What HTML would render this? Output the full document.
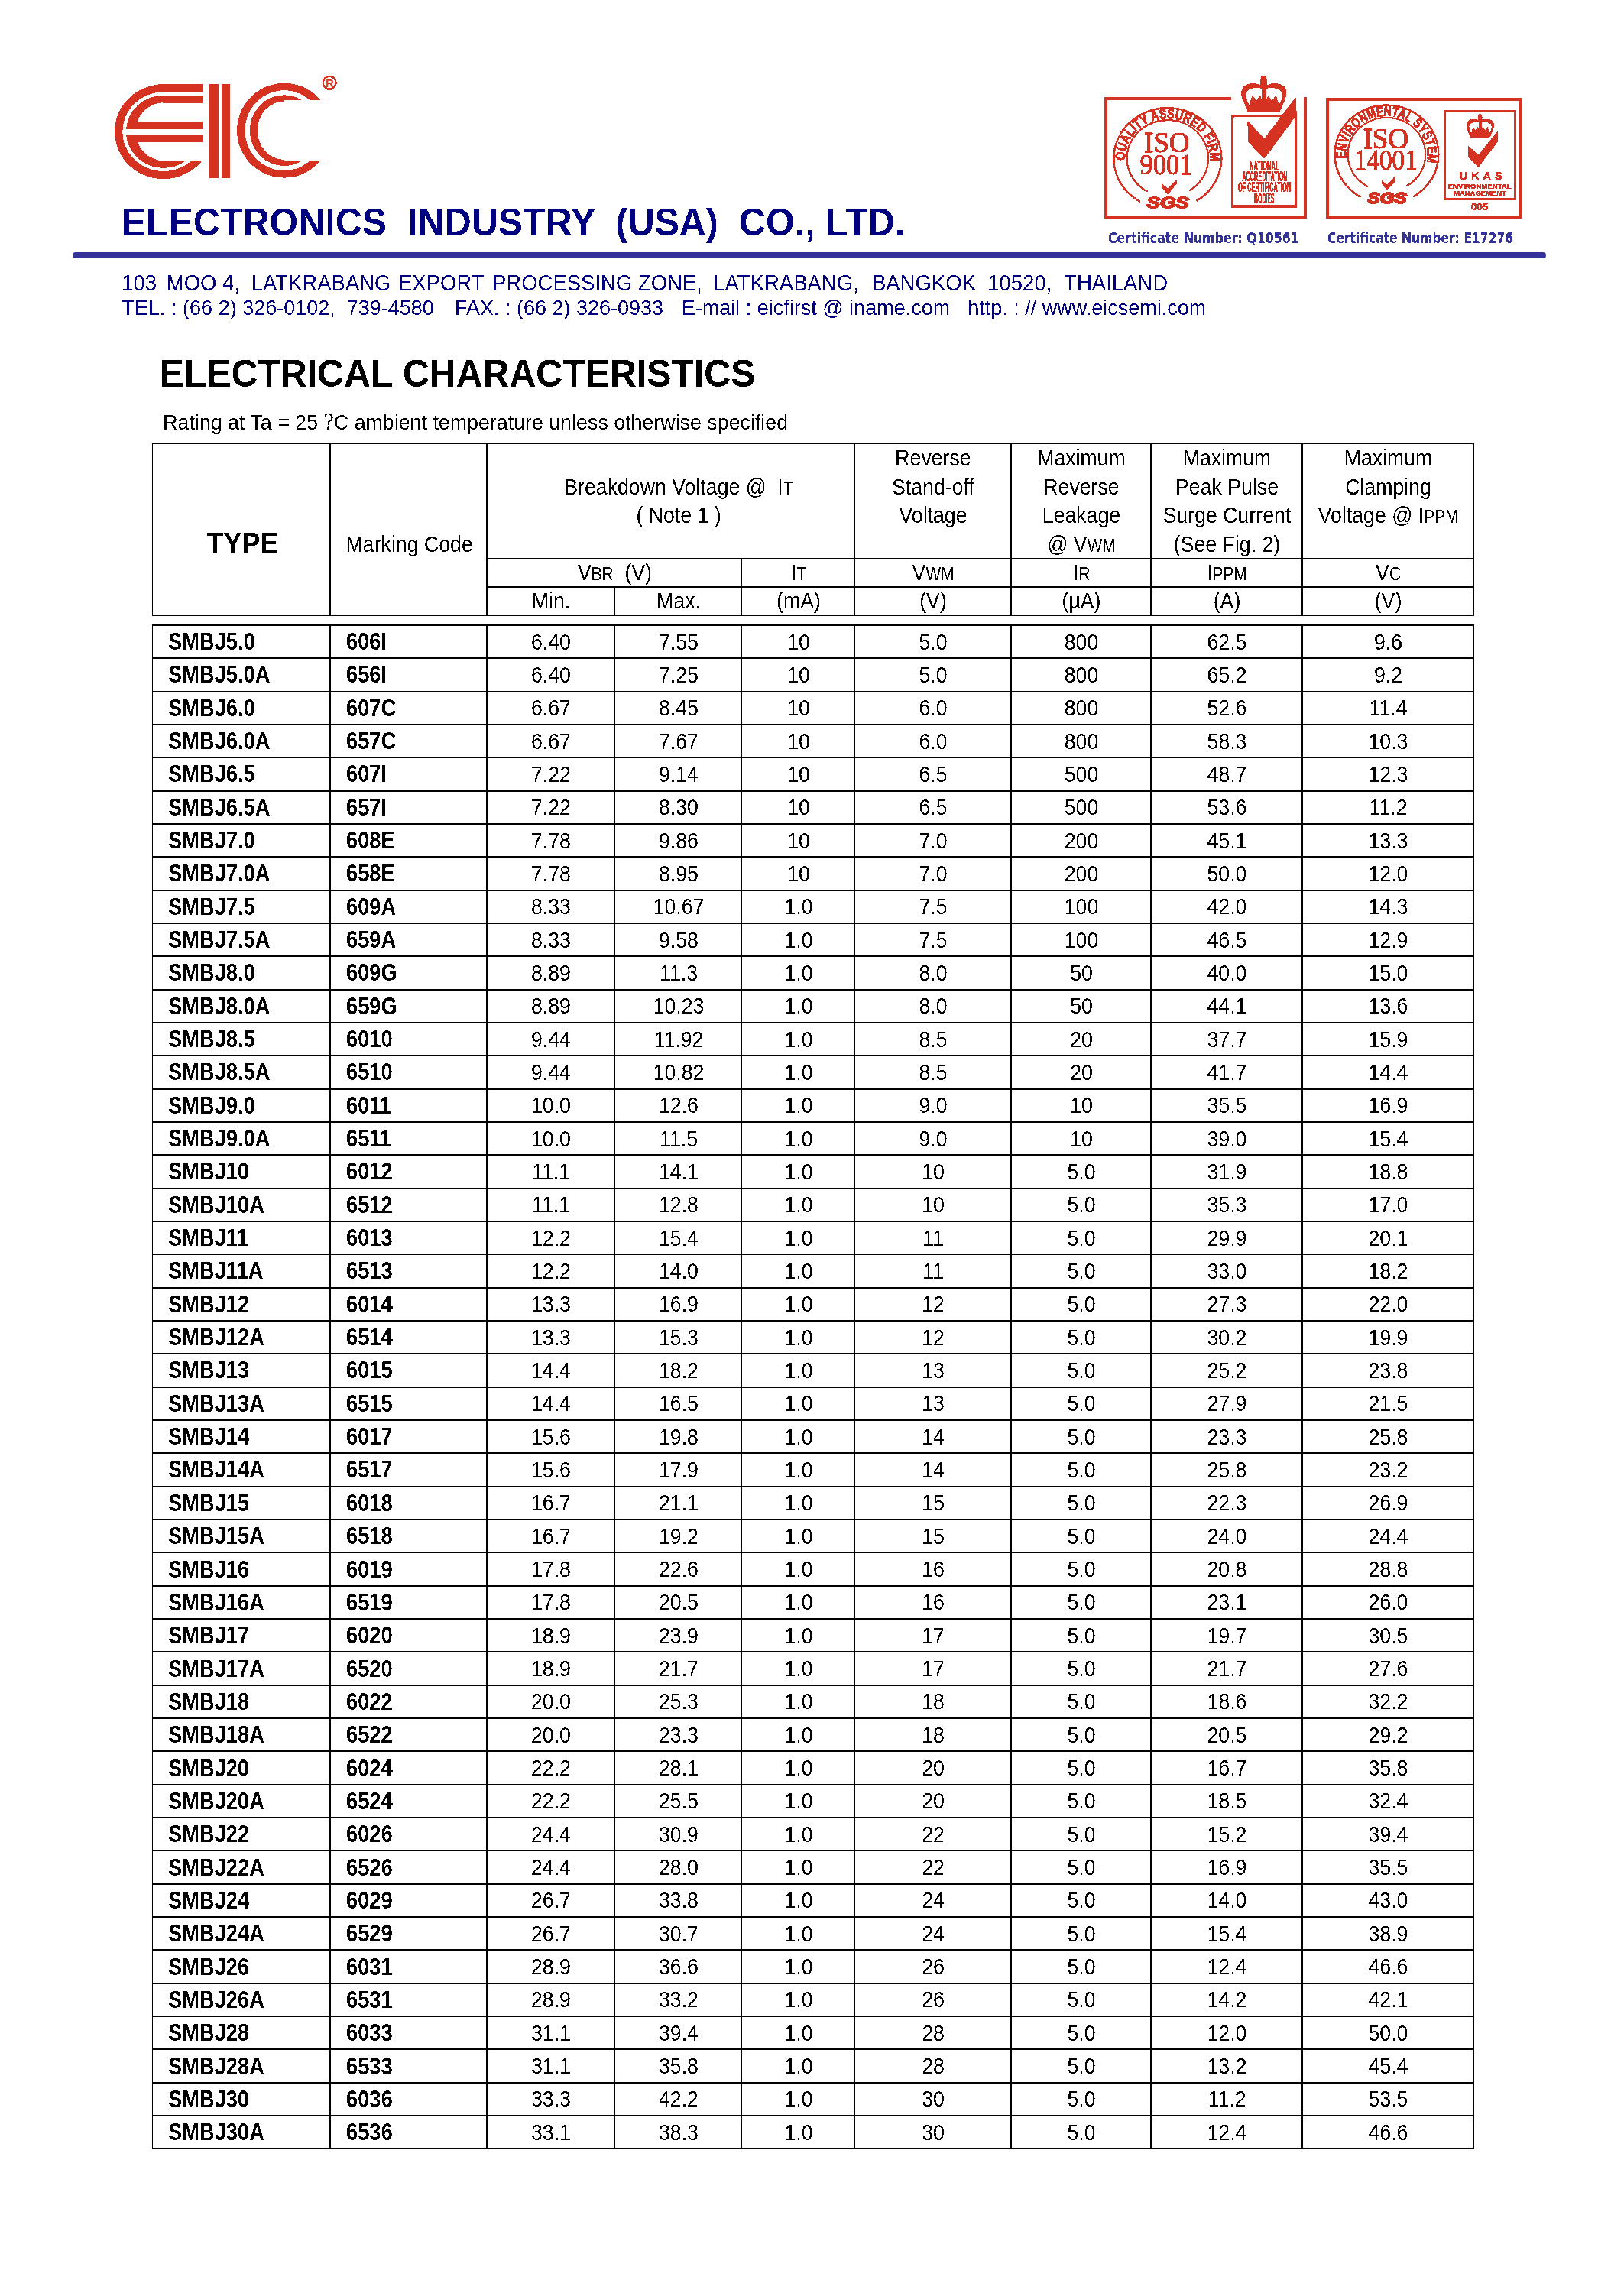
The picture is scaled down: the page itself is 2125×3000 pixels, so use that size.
<!DOCTYPE html>
<html lang="en"><head><meta charset="utf-8"><title>EIC SMBJ Electrical Characteristics</title>
<style>
html,body{margin:0;padding:0;background:#fff;}
body{width:2125px;height:3000px;position:relative;overflow:hidden;font-family:"Liberation Sans",sans-serif;color:#000;}
.t{filter:url(#al);position:absolute;white-space:pre;line-height:1;transform:scaleY(1.04);transform-origin:0 84.65%;}
.c{filter:url(#al);position:absolute;white-space:pre;line-height:1;text-align:center;transform:scaleY(1.04);transform-origin:0 84.65%;}
.ln{position:absolute;background:#000;}
.b{font-weight:bold;}
.tb{transform:scaleY(1.12);}
.s{font-size:0.78em;}
svg{position:absolute;left:0;top:0;overflow:visible;}

</style></head><body>
<svg width="0" height="0" style="position:absolute"><defs><filter id="al" x="-5%" y="-25%" width="110%" height="150%" color-interpolation-filters="sRGB"><feComponentTransfer><feFuncA type="discrete" tableValues="0 1"/></feComponentTransfer></filter><filter id="al2" filterUnits="userSpaceOnUse" x="1400" y="80" width="660" height="240" color-interpolation-filters="sRGB"><feComponentTransfer><feFuncA type="discrete" tableValues="0 1"/></feComponentTransfer></filter></defs></svg>
<svg width="2125" height="400" viewBox="0 0 2125 400" fill="#d63222" shape-rendering="crispEdges">
<defs>
<clipPath id="ce"><path d="M100,90H214.0V210.1H264.9V260H100Z"/></clipPath>
<clipPath id="cc"><path d="M280,90H480V130.9H371.9V210.1H480V260H280Z"/></clipPath>
</defs>
<g clip-path="url(#ce)">
<path fill-rule="evenodd" d="M150.00,172.20A64.00,62.00 0 1,0 278.00,172.20A64.00,62.00 0 1,0 150.00,172.20ZM160.40,172.20A53.60,51.80 0 1,0 267.60,172.20A53.60,51.80 0 1,0 160.40,172.20Z"/>
<path fill-rule="evenodd" d="M165.00,172.20A49.00,47.50 0 1,0 263.00,172.20A49.00,47.50 0 1,0 165.00,172.20ZM177.50,172.20A36.50,38.00 0 1,0 250.50,172.20A36.50,38.00 0 1,0 177.50,172.20Z"/>
</g>
<rect x="213.0" y="110.2" width="51.89999999999998" height="10.4"/>
<rect x="213.0" y="124.9" width="51.89999999999998" height="9.9"/>
<rect x="172" y="159.1" width="92.89999999999998" height="9.7"/>
<rect x="172" y="176.1" width="92.89999999999998" height="9.5"/>
<rect x="160.6" y="168.8" width="105.29999999999998" height="7.3" fill="#fff"/>
<rect x="274.2" y="110" width="11.6" height="123"/>
<rect x="290" y="110" width="11" height="123"/>
<g clip-path="url(#cc)">
<path fill-rule="evenodd" d="M310.10,170.70A61.80,61.90 0 1,0 433.70,170.70A61.80,61.90 0 1,0 310.10,170.70ZM320.60,170.70A51.30,52.40 0 1,0 423.20,170.70A51.30,52.40 0 1,0 320.60,170.70Z"/>
<path fill-rule="evenodd" d="M326.90,170.70A45.00,46.30 0 1,0 416.90,170.70A45.00,46.30 0 1,0 326.90,170.70ZM336.80,170.70A35.10,38.20 0 1,0 407.00,170.70A35.10,38.20 0 1,0 336.80,170.70Z"/>
</g>
<circle cx="431.1" cy="108.3" r="8.4" fill="none" stroke="#d63222" stroke-width="2.6"/>
<text x="431.4" y="113.5" font-family="Liberation Sans, sans-serif" font-weight="bold" font-size="14.5" text-anchor="middle">R</text>
<g shape-rendering="auto" filter="url(#al2)">
<path d="M1611,128.9H1446.9V284.3H1707.9V127" fill="none" stroke="#d63222" stroke-width="3.9" stroke-linejoin="miter"/>
<path id="b1o" d="M1492.02,264.07A70.50,66.00 0 1,1 1565.68,262.86" fill="none" stroke="#d63222" stroke-width="2.5"/>
<path d="M1501.55,250.72A53.30,50.00 0 1,1 1556.28,249.46" fill="none" stroke="#d63222" stroke-width="2.3"/>
<path id="b1t" d="M1472.28,209.93A55.60,52.20 0 1,1 1583.37,209.02" fill="none"/>
<text font-family="Liberation Sans, sans-serif" font-weight="bold" font-size="18" stroke="#d63222" stroke-width="0.9" textLength="176" lengthAdjust="spacingAndGlyphs"><textPath href="#b1t" textLength="174" lengthAdjust="spacingAndGlyphs">QUALITY ASSURED FIRM</textPath></text>
<text x="1526.7" y="199.3" font-family="Liberation Serif, serif" font-size="37" text-anchor="middle" stroke="#d63222" stroke-width="1.0">ISO</text>
<text x="1525.9" y="228.1" font-family="Liberation Serif, serif" font-size="37.5" text-anchor="middle" stroke="#d63222" stroke-width="1.0" textLength="69" lengthAdjust="spacingAndGlyphs">9001</text>
<path d="M1520.0,239.9L1528.1,246.4L1539.8,235.1L1539.8,240.3L1528.1,254.7L1520.0,245.2Z"/>
<text x="1528.1" y="271.9" font-family="Liberation Sans, sans-serif" font-weight="bold" font-style="italic" font-size="20.5" text-anchor="middle" textLength="55" lengthAdjust="spacingAndGlyphs" stroke="#d63222" stroke-width="1.8">SGS</text>
<rect x="1612.8" y="151.6" width="82.6" height="118.4" fill="none" stroke="#d63222" stroke-width="3.3"/>
<path fill-rule="evenodd" d="M1648.87,110.91C1643.63,108.47 1634.47,107.86 1628.36,112.22C1623.56,116.14 1623.13,123.56 1625.74,129.66L1632.46,145.63L1674.86,145.63L1681.76,129.66C1684.46,123.56 1683.94,116.14 1678.97,111.78C1672.86,107.86 1664.13,108.47 1658.29,110.91L1657.59,107.86L1658.29,104.98C1658.29,104.98 1657.59,103.93 1656.72,103.93C1658.03,102.19 1656.72,98.70 1653.40,98.70C1649.91,98.70 1648.69,102.19 1650.17,103.93C1649.04,103.93 1648.52,104.98 1648.52,104.98L1649.39,107.86ZM1651.05,116.14C1645.38,113.96 1635.34,115.27 1631.24,120.07C1629.23,124.87 1630.72,129.66 1634.73,137.78L1638.40,124.87L1644.07,131.41L1648.87,124.43L1651.31,130.97ZM1657.15,116.14C1662.82,113.96 1672.86,115.27 1676.96,120.07C1678.97,124.87 1677.48,129.66 1673.47,137.78L1669.80,124.87L1664.13,131.41L1659.33,124.43L1656.89,130.97Z"/>
<path d="M1632.3,158.0L1654.5,181.1L1695.5,127.1L1696.8,150.2L1654.5,207.7L1633.1,185.9Z"/>
<text x="1634.9" y="222.6" font-family="Liberation Sans, sans-serif" font-weight="bold" font-size="18.4" stroke="#d63222" stroke-width="0.6" textLength="38.8" lengthAdjust="spacingAndGlyphs">NATIONAL</text>
<text x="1625.3" y="237.4" font-family="Liberation Sans, sans-serif" font-weight="bold" font-size="18.4" stroke="#d63222" stroke-width="0.6" textLength="59.3" lengthAdjust="spacingAndGlyphs">ACCREDITATION</text>
<text x="1620" y="251.3" font-family="Liberation Sans, sans-serif" font-weight="bold" font-size="18.4" stroke="#d63222" stroke-width="0.6" textLength="69.0" lengthAdjust="spacingAndGlyphs">OF CERTIFICATION</text>
<text x="1641" y="265.7" font-family="Liberation Sans, sans-serif" font-weight="bold" font-size="18.4" stroke="#d63222" stroke-width="0.6" textLength="26.6" lengthAdjust="spacingAndGlyphs">BODIES</text>
<rect x="1736.7" y="129.8" width="253" height="154.1" fill="none" stroke="#d63222" stroke-width="3.8"/>
<path d="M1780.45,257.95A67.90,64.60 0 1,1 1849.37,257.37" fill="none" stroke="#d63222" stroke-width="2.5"/>
<path d="M1789.96,244.19A50.90,48.10 0 1,1 1840.39,243.36" fill="none" stroke="#d63222" stroke-width="2.3"/>
<path id="b2t" d="M1761.49,207.25A53.20,50.20 0 1,1 1867.31,207.25" fill="none"/>
<text font-family="Liberation Sans, sans-serif" font-weight="bold" font-size="18" stroke="#d63222" stroke-width="0.9" textLength="178" lengthAdjust="spacingAndGlyphs"><textPath href="#b2t" textLength="176" lengthAdjust="spacingAndGlyphs">ENVIRONMENTAL SYSTEM</textPath></text>
<text x="1813.3" y="194.4" font-family="Liberation Serif, serif" font-size="37" text-anchor="middle" stroke="#d63222" stroke-width="1.0">ISO</text>
<text x="1813.3" y="222.1" font-family="Liberation Serif, serif" font-size="37" text-anchor="middle" stroke="#d63222" stroke-width="1.0" textLength="83" lengthAdjust="spacingAndGlyphs">14001</text>
<path d="M1808.3,236.0L1815.1,241.5L1825.3,230.4L1825.3,237.8L1815.1,248.9L1808.3,240.6Z"/>
<text x="1815.1" y="265.5" font-family="Liberation Sans, sans-serif" font-weight="bold" font-style="italic" font-size="20" text-anchor="middle" textLength="51.5" lengthAdjust="spacingAndGlyphs" stroke="#d63222" stroke-width="1.8">SGS</text>
<rect x="1890.4" y="145.3" width="92" height="115.1" fill="none" stroke="#d63222" stroke-width="2.9"/>
<path fill-rule="evenodd" d="M1933.84,157.01C1930.63,155.43 1925.02,155.03 1921.27,157.85C1918.33,160.40 1918.07,165.20 1919.67,169.15L1923.79,179.49L1949.78,179.49L1954.00,169.15C1955.66,165.20 1955.34,160.40 1952.29,157.57C1948.55,155.03 1943.20,155.43 1939.62,157.01L1939.19,155.03L1939.62,153.17C1939.62,153.17 1939.19,152.49 1938.65,152.49C1939.46,151.36 1938.65,149.10 1936.62,149.10C1934.48,149.10 1933.73,151.36 1934.64,152.49C1933.95,152.49 1933.63,153.17 1933.63,153.17L1934.16,155.03ZM1935.18,160.40C1931.70,158.98 1925.55,159.83 1923.04,162.94C1921.81,166.04 1922.72,169.15 1925.18,174.40L1927.42,166.04L1930.90,170.28L1933.84,165.76L1935.34,170.00ZM1938.92,160.40C1942.40,158.98 1948.55,159.83 1951.06,162.94C1952.29,166.04 1951.38,169.15 1948.92,174.40L1946.68,166.04L1943.20,170.28L1940.26,165.76L1938.76,170.00Z"/>
<path d="M1921.4,190.7L1934.3,202.7L1960.2,170.4L1960.2,185.1L1934.3,219.3L1921.4,205.5Z"/>
<text x="1909.4" y="235" font-family="Liberation Sans, sans-serif" font-weight="bold" stroke="#d63222" stroke-width="0.45" font-size="14.7" textLength="56.3" lengthAdjust="spacing">UKAS</text>
<text x="1894.6" y="247" font-family="Liberation Sans, sans-serif" font-weight="bold" stroke="#d63222" stroke-width="0.45" font-size="9.4" textLength="83" lengthAdjust="spacingAndGlyphs">ENVIRONMENTAL</text>
<text x="1902" y="255.9" font-family="Liberation Sans, sans-serif" font-weight="bold" stroke="#d63222" stroke-width="0.45" font-size="9.2" textLength="69" lengthAdjust="spacingAndGlyphs">MANAGEMENT</text>
<text x="1925" y="274.7" font-family="Liberation Sans, sans-serif" font-weight="bold" stroke="#d63222" stroke-width="0.45" font-size="13.2" textLength="22.2" lengthAdjust="spacingAndGlyphs">005</text>
</g>
</svg>
<div class="t b" style="left:158.6px;top:266.94px;font-size:48.5px;color:#000080;">ELECTRONICS  INDUSTRY  (USA)  CO., LTD.</div>
<div style="position:absolute;left:95px;top:330px;width:1928px;height:8px;border-radius:4px;background:#333399;"></div>
<div class="t " style="left:159.21px;top:356.72px;font-size:27.5px;color:#000080;">103</div>
<div class="t " style="left:217.74px;top:356.72px;font-size:27.5px;color:#000080;">MOO 4,</div>
<div class="t " style="left:328.64px;top:356.72px;font-size:27.5px;color:#000080;">LATKRABANG</div>
<div class="t " style="left:520.94px;top:356.72px;font-size:27.5px;color:#000080;">EXPORT</div>
<div class="t " style="left:643.94px;top:356.72px;font-size:27.5px;color:#000080;">PROCESSING</div>
<div class="t " style="left:834.83px;top:356.72px;font-size:27.5px;color:#000080;">ZONE,</div>
<div class="t " style="left:933.24px;top:356.72px;font-size:27.5px;color:#000080;">LATKRABANG,</div>
<div class="t " style="left:1141.04px;top:356.72px;font-size:27.5px;color:#000080;">BANGKOK</div>
<div class="t " style="left:1292.21px;top:356.72px;font-size:27.5px;color:#000080;">10520,</div>
<div class="t " style="left:1392.08px;top:356.72px;font-size:27.5px;color:#000080;">THAILAND</div>
<div class="t " style="left:159.59px;top:390.14px;font-size:27px;color:#000080;">TEL. : (66 2) 326-0102,  739-4580</div>
<div class="t " style="left:594.89px;top:390.14px;font-size:27px;color:#000080;">FAX. : (66 2) 326-0933</div>
<div class="t " style="left:891.69px;top:390.14px;font-size:27px;color:#000080;">E-mail : eicfirst @ iname.com</div>
<div class="t " style="left:1266.13px;top:390.14px;font-size:27px;color:#000080;">http. : // www.eicsemi.com</div>
<div class="t b" style="left:208.5px;top:464.71px;font-size:48.3px;">ELECTRICAL CHARACTERISTICS</div>
<div class="t " style="left:213.2px;top:540.01px;font-size:26.8px;">Rating at Ta = 25 <span style="font-family:'Liberation Serif',serif;font-size:1.12em;line-height:0">?</span>C ambient temperature unless otherwise specified</div>
<div class="t b" style="left:1450px;top:302.66px;font-size:18.6px;color:#333399;font-family:'DejaVu Sans Condensed','DejaVu Sans',sans-serif;transform:scale(0.945,1.04);transform-origin:0 84.65%;">Certificate Number: Q10561</div>
<div class="t b" style="left:1737px;top:302.66px;font-size:18.6px;color:#333399;font-family:'DejaVu Sans Condensed','DejaVu Sans',sans-serif;transform:scale(0.93,1.04);transform-origin:0 84.65%;">Certificate Number: E17276</div>
<div class="ln" style="left:199px;top:580px;width:1730px;height:1px"></div>
<div class="ln" style="left:199px;top:805px;width:1730px;height:1px"></div>
<div class="ln" style="left:636px;top:730px;width:1293px;height:1px"></div>
<div class="ln" style="left:636px;top:767px;width:1293px;height:2px"></div>
<div class="ln" style="left:199px;top:580px;width:1px;height:226px"></div>
<div class="ln" style="left:431px;top:580px;width:2px;height:226px"></div>
<div class="ln" style="left:636px;top:580px;width:2px;height:226px"></div>
<div class="ln" style="left:803px;top:767px;width:2px;height:39px"></div>
<div class="ln" style="left:970px;top:730px;width:1px;height:76px"></div>
<div class="ln" style="left:1117px;top:580px;width:2px;height:226px"></div>
<div class="ln" style="left:1322px;top:580px;width:2px;height:226px"></div>
<div class="ln" style="left:1505px;top:580px;width:2px;height:226px"></div>
<div class="ln" style="left:1703px;top:580px;width:2px;height:226px"></div>
<div class="ln" style="left:1927px;top:580px;width:2px;height:226px"></div>
<div class="ln" style="left:199px;top:817px;width:1730px;height:2px"></div>
<div class="ln" style="left:199px;top:860px;width:1730px;height:2px"></div>
<div class="ln" style="left:199px;top:904px;width:1730px;height:2px"></div>
<div class="ln" style="left:199px;top:947px;width:1730px;height:2px"></div>
<div class="ln" style="left:199px;top:990px;width:1730px;height:2px"></div>
<div class="ln" style="left:199px;top:1034px;width:1730px;height:2px"></div>
<div class="ln" style="left:199px;top:1077px;width:1730px;height:2px"></div>
<div class="ln" style="left:199px;top:1120px;width:1730px;height:2px"></div>
<div class="ln" style="left:199px;top:1164px;width:1730px;height:2px"></div>
<div class="ln" style="left:199px;top:1207px;width:1730px;height:2px"></div>
<div class="ln" style="left:199px;top:1250px;width:1730px;height:2px"></div>
<div class="ln" style="left:199px;top:1294px;width:1730px;height:2px"></div>
<div class="ln" style="left:199px;top:1337px;width:1730px;height:2px"></div>
<div class="ln" style="left:199px;top:1380px;width:1730px;height:2px"></div>
<div class="ln" style="left:199px;top:1424px;width:1730px;height:2px"></div>
<div class="ln" style="left:199px;top:1467px;width:1730px;height:2px"></div>
<div class="ln" style="left:199px;top:1510px;width:1730px;height:2px"></div>
<div class="ln" style="left:199px;top:1554px;width:1730px;height:2px"></div>
<div class="ln" style="left:199px;top:1597px;width:1730px;height:2px"></div>
<div class="ln" style="left:199px;top:1640px;width:1730px;height:2px"></div>
<div class="ln" style="left:199px;top:1684px;width:1730px;height:2px"></div>
<div class="ln" style="left:199px;top:1727px;width:1730px;height:2px"></div>
<div class="ln" style="left:199px;top:1770px;width:1730px;height:2px"></div>
<div class="ln" style="left:199px;top:1814px;width:1730px;height:2px"></div>
<div class="ln" style="left:199px;top:1857px;width:1730px;height:2px"></div>
<div class="ln" style="left:199px;top:1900px;width:1730px;height:2px"></div>
<div class="ln" style="left:199px;top:1944px;width:1730px;height:2px"></div>
<div class="ln" style="left:199px;top:1987px;width:1730px;height:2px"></div>
<div class="ln" style="left:199px;top:2030px;width:1730px;height:2px"></div>
<div class="ln" style="left:199px;top:2074px;width:1730px;height:2px"></div>
<div class="ln" style="left:199px;top:2117px;width:1730px;height:2px"></div>
<div class="ln" style="left:199px;top:2160px;width:1730px;height:2px"></div>
<div class="ln" style="left:199px;top:2204px;width:1730px;height:2px"></div>
<div class="ln" style="left:199px;top:2247px;width:1730px;height:2px"></div>
<div class="ln" style="left:199px;top:2290px;width:1730px;height:2px"></div>
<div class="ln" style="left:199px;top:2334px;width:1730px;height:2px"></div>
<div class="ln" style="left:199px;top:2377px;width:1730px;height:2px"></div>
<div class="ln" style="left:199px;top:2420px;width:1730px;height:2px"></div>
<div class="ln" style="left:199px;top:2464px;width:1730px;height:2px"></div>
<div class="ln" style="left:199px;top:2507px;width:1730px;height:2px"></div>
<div class="ln" style="left:199px;top:2550px;width:1730px;height:2px"></div>
<div class="ln" style="left:199px;top:2594px;width:1730px;height:2px"></div>
<div class="ln" style="left:199px;top:2637px;width:1730px;height:2px"></div>
<div class="ln" style="left:199px;top:2680px;width:1730px;height:2px"></div>
<div class="ln" style="left:199px;top:2724px;width:1730px;height:2px"></div>
<div class="ln" style="left:199px;top:2767px;width:1730px;height:2px"></div>
<div class="ln" style="left:199px;top:2810px;width:1730px;height:2px"></div>
<div class="ln" style="left:199px;top:817px;width:1px;height:1995px"></div>
<div class="ln" style="left:431px;top:817px;width:2px;height:1995px"></div>
<div class="ln" style="left:636px;top:817px;width:2px;height:1995px"></div>
<div class="ln" style="left:803px;top:817px;width:2px;height:1995px"></div>
<div class="ln" style="left:970px;top:817px;width:1px;height:1995px"></div>
<div class="ln" style="left:1117px;top:817px;width:2px;height:1995px"></div>
<div class="ln" style="left:1322px;top:817px;width:2px;height:1995px"></div>
<div class="ln" style="left:1505px;top:817px;width:2px;height:1995px"></div>
<div class="ln" style="left:1703px;top:817px;width:2px;height:1995px"></div>
<div class="ln" style="left:1927px;top:817px;width:2px;height:1995px"></div>
<div class="c b tb" style="left:201.5px;width:232.0px;top:694.81px;font-size:35.9px;transform:scaleY(1.07);">TYPE</div>
<div class="t  tb" style="left:452.6px;top:700.00px;font-size:26.7px;">Marking Code</div>
<div class="c  tb" style="left:647.5px;width:481.0px;top:625.40px;font-size:26.7px;">Breakdown Voltage @  I<span class="s">T</span></div>
<div class="c  tb" style="left:647.5px;width:481.0px;top:662.20px;font-size:26.7px;">( Note 1 )</div>
<div class="c  tb" style="left:1118.5px;width:205.0px;top:586.90px;font-size:26.7px;">Reverse</div>
<div class="c  tb" style="left:1118.5px;width:205.0px;top:624.60px;font-size:26.7px;">Stand-off</div>
<div class="c  tb" style="left:1118.5px;width:205.0px;top:661.80px;font-size:26.7px;">Voltage</div>
<div class="c  tb" style="left:1323.5px;width:183.0px;top:586.90px;font-size:26.7px;">Maximum</div>
<div class="c  tb" style="left:1323.5px;width:183.0px;top:624.60px;font-size:26.7px;">Reverse</div>
<div class="c  tb" style="left:1323.5px;width:183.0px;top:661.80px;font-size:26.7px;">Leakage</div>
<div class="c  tb" style="left:1323.5px;width:183.0px;top:699.80px;font-size:26.7px;">@ V<span class="s">WM</span></div>
<div class="c  tb" style="left:1506.5px;width:198.0px;top:586.90px;font-size:26.7px;">Maximum</div>
<div class="c  tb" style="left:1506.5px;width:198.0px;top:624.60px;font-size:26.7px;">Peak Pulse</div>
<div class="c  tb" style="left:1506.5px;width:198.0px;top:661.80px;font-size:26.7px;">Surge Current</div>
<div class="c  tb" style="left:1506.5px;width:198.0px;top:699.80px;font-size:26.7px;">(See Fig. 2)</div>
<div class="c  tb" style="left:1704.5px;width:224.0px;top:586.90px;font-size:26.7px;">Maximum</div>
<div class="c  tb" style="left:1704.5px;width:224.0px;top:624.60px;font-size:26.7px;">Clamping</div>
<div class="c  tb" style="left:1704.5px;width:224.0px;top:661.80px;font-size:26.7px;">Voltage @ I<span class="s">PPM</span></div>
<div class="c  tb" style="left:637.5px;width:334.0px;top:736.70px;font-size:26.7px;">V<span class="s">BR</span>  (V)</div>
<div class="c  tb" style="left:971.5px;width:147.0px;top:736.70px;font-size:26.7px;">I<span class="s">T</span></div>
<div class="c  tb" style="left:1118.5px;width:205.0px;top:736.70px;font-size:26.7px;">V<span class="s">WM</span></div>
<div class="c  tb" style="left:1323.5px;width:183.0px;top:736.70px;font-size:26.7px;">I<span class="s">R</span></div>
<div class="c  tb" style="left:1506.5px;width:198.0px;top:736.70px;font-size:26.7px;">I<span class="s">PPM</span></div>
<div class="c  tb" style="left:1704.5px;width:224.0px;top:736.70px;font-size:26.7px;">V<span class="s">C</span></div>
<div class="c  tb" style="left:637.5px;width:167.0px;top:773.80px;font-size:26.7px;">Min.</div>
<div class="c  tb" style="left:804.5px;width:167.0px;top:773.80px;font-size:26.7px;">Max.</div>
<div class="c  tb" style="left:971.5px;width:147.0px;top:773.80px;font-size:26.7px;">(mA)</div>
<div class="c  tb" style="left:1118.5px;width:205.0px;top:773.80px;font-size:26.7px;">(V)</div>
<div class="c  tb" style="left:1323.5px;width:183.0px;top:773.80px;font-size:26.7px;">(µA)</div>
<div class="c  tb" style="left:1506.5px;width:198.0px;top:773.80px;font-size:26.7px;">(A)</div>
<div class="c  tb" style="left:1704.5px;width:224.0px;top:773.80px;font-size:26.7px;">(V)</div>
<div class="t b tb" style="left:220px;top:826.99px;font-size:27.3px;">SMBJ5.0</div>
<div class="t b tb" style="left:453px;top:826.99px;font-size:27.3px;">606I</div>
<div class="c  tb" style="left:637.5px;width:167.0px;top:827.50px;font-size:26.7px;">6.40</div>
<div class="c  tb" style="left:804.5px;width:167.0px;top:827.50px;font-size:26.7px;">7.55</div>
<div class="c  tb" style="left:971.5px;width:147.0px;top:827.50px;font-size:26.7px;">10</div>
<div class="c  tb" style="left:1118.5px;width:205.0px;top:827.50px;font-size:26.7px;">5.0</div>
<div class="c  tb" style="left:1323.5px;width:183.0px;top:827.50px;font-size:26.7px;">800</div>
<div class="c  tb" style="left:1506.5px;width:198.0px;top:827.50px;font-size:26.7px;">62.5</div>
<div class="c  tb" style="left:1704.5px;width:224.0px;top:827.50px;font-size:26.7px;">9.6</div>
<div class="t b tb" style="left:220px;top:870.33px;font-size:27.3px;">SMBJ5.0A</div>
<div class="t b tb" style="left:453px;top:870.33px;font-size:27.3px;">656I</div>
<div class="c  tb" style="left:637.5px;width:167.0px;top:870.84px;font-size:26.7px;">6.40</div>
<div class="c  tb" style="left:804.5px;width:167.0px;top:870.84px;font-size:26.7px;">7.25</div>
<div class="c  tb" style="left:971.5px;width:147.0px;top:870.84px;font-size:26.7px;">10</div>
<div class="c  tb" style="left:1118.5px;width:205.0px;top:870.84px;font-size:26.7px;">5.0</div>
<div class="c  tb" style="left:1323.5px;width:183.0px;top:870.84px;font-size:26.7px;">800</div>
<div class="c  tb" style="left:1506.5px;width:198.0px;top:870.84px;font-size:26.7px;">65.2</div>
<div class="c  tb" style="left:1704.5px;width:224.0px;top:870.84px;font-size:26.7px;">9.2</div>
<div class="t b tb" style="left:220px;top:913.67px;font-size:27.3px;">SMBJ6.0</div>
<div class="t b tb" style="left:453px;top:913.67px;font-size:27.3px;">607C</div>
<div class="c  tb" style="left:637.5px;width:167.0px;top:914.18px;font-size:26.7px;">6.67</div>
<div class="c  tb" style="left:804.5px;width:167.0px;top:914.18px;font-size:26.7px;">8.45</div>
<div class="c  tb" style="left:971.5px;width:147.0px;top:914.18px;font-size:26.7px;">10</div>
<div class="c  tb" style="left:1118.5px;width:205.0px;top:914.18px;font-size:26.7px;">6.0</div>
<div class="c  tb" style="left:1323.5px;width:183.0px;top:914.18px;font-size:26.7px;">800</div>
<div class="c  tb" style="left:1506.5px;width:198.0px;top:914.18px;font-size:26.7px;">52.6</div>
<div class="c  tb" style="left:1704.5px;width:224.0px;top:914.18px;font-size:26.7px;">11.4</div>
<div class="t b tb" style="left:220px;top:957.01px;font-size:27.3px;">SMBJ6.0A</div>
<div class="t b tb" style="left:453px;top:957.01px;font-size:27.3px;">657C</div>
<div class="c  tb" style="left:637.5px;width:167.0px;top:957.52px;font-size:26.7px;">6.67</div>
<div class="c  tb" style="left:804.5px;width:167.0px;top:957.52px;font-size:26.7px;">7.67</div>
<div class="c  tb" style="left:971.5px;width:147.0px;top:957.52px;font-size:26.7px;">10</div>
<div class="c  tb" style="left:1118.5px;width:205.0px;top:957.52px;font-size:26.7px;">6.0</div>
<div class="c  tb" style="left:1323.5px;width:183.0px;top:957.52px;font-size:26.7px;">800</div>
<div class="c  tb" style="left:1506.5px;width:198.0px;top:957.52px;font-size:26.7px;">58.3</div>
<div class="c  tb" style="left:1704.5px;width:224.0px;top:957.52px;font-size:26.7px;">10.3</div>
<div class="t b tb" style="left:220px;top:1000.35px;font-size:27.3px;">SMBJ6.5</div>
<div class="t b tb" style="left:453px;top:1000.35px;font-size:27.3px;">607I</div>
<div class="c  tb" style="left:637.5px;width:167.0px;top:1000.86px;font-size:26.7px;">7.22</div>
<div class="c  tb" style="left:804.5px;width:167.0px;top:1000.86px;font-size:26.7px;">9.14</div>
<div class="c  tb" style="left:971.5px;width:147.0px;top:1000.86px;font-size:26.7px;">10</div>
<div class="c  tb" style="left:1118.5px;width:205.0px;top:1000.86px;font-size:26.7px;">6.5</div>
<div class="c  tb" style="left:1323.5px;width:183.0px;top:1000.86px;font-size:26.7px;">500</div>
<div class="c  tb" style="left:1506.5px;width:198.0px;top:1000.86px;font-size:26.7px;">48.7</div>
<div class="c  tb" style="left:1704.5px;width:224.0px;top:1000.86px;font-size:26.7px;">12.3</div>
<div class="t b tb" style="left:220px;top:1043.69px;font-size:27.3px;">SMBJ6.5A</div>
<div class="t b tb" style="left:453px;top:1043.69px;font-size:27.3px;">657I</div>
<div class="c  tb" style="left:637.5px;width:167.0px;top:1044.20px;font-size:26.7px;">7.22</div>
<div class="c  tb" style="left:804.5px;width:167.0px;top:1044.20px;font-size:26.7px;">8.30</div>
<div class="c  tb" style="left:971.5px;width:147.0px;top:1044.20px;font-size:26.7px;">10</div>
<div class="c  tb" style="left:1118.5px;width:205.0px;top:1044.20px;font-size:26.7px;">6.5</div>
<div class="c  tb" style="left:1323.5px;width:183.0px;top:1044.20px;font-size:26.7px;">500</div>
<div class="c  tb" style="left:1506.5px;width:198.0px;top:1044.20px;font-size:26.7px;">53.6</div>
<div class="c  tb" style="left:1704.5px;width:224.0px;top:1044.20px;font-size:26.7px;">11.2</div>
<div class="t b tb" style="left:220px;top:1087.03px;font-size:27.3px;">SMBJ7.0</div>
<div class="t b tb" style="left:453px;top:1087.03px;font-size:27.3px;">608E</div>
<div class="c  tb" style="left:637.5px;width:167.0px;top:1087.54px;font-size:26.7px;">7.78</div>
<div class="c  tb" style="left:804.5px;width:167.0px;top:1087.54px;font-size:26.7px;">9.86</div>
<div class="c  tb" style="left:971.5px;width:147.0px;top:1087.54px;font-size:26.7px;">10</div>
<div class="c  tb" style="left:1118.5px;width:205.0px;top:1087.54px;font-size:26.7px;">7.0</div>
<div class="c  tb" style="left:1323.5px;width:183.0px;top:1087.54px;font-size:26.7px;">200</div>
<div class="c  tb" style="left:1506.5px;width:198.0px;top:1087.54px;font-size:26.7px;">45.1</div>
<div class="c  tb" style="left:1704.5px;width:224.0px;top:1087.54px;font-size:26.7px;">13.3</div>
<div class="t b tb" style="left:220px;top:1130.37px;font-size:27.3px;">SMBJ7.0A</div>
<div class="t b tb" style="left:453px;top:1130.37px;font-size:27.3px;">658E</div>
<div class="c  tb" style="left:637.5px;width:167.0px;top:1130.88px;font-size:26.7px;">7.78</div>
<div class="c  tb" style="left:804.5px;width:167.0px;top:1130.88px;font-size:26.7px;">8.95</div>
<div class="c  tb" style="left:971.5px;width:147.0px;top:1130.88px;font-size:26.7px;">10</div>
<div class="c  tb" style="left:1118.5px;width:205.0px;top:1130.88px;font-size:26.7px;">7.0</div>
<div class="c  tb" style="left:1323.5px;width:183.0px;top:1130.88px;font-size:26.7px;">200</div>
<div class="c  tb" style="left:1506.5px;width:198.0px;top:1130.88px;font-size:26.7px;">50.0</div>
<div class="c  tb" style="left:1704.5px;width:224.0px;top:1130.88px;font-size:26.7px;">12.0</div>
<div class="t b tb" style="left:220px;top:1173.71px;font-size:27.3px;">SMBJ7.5</div>
<div class="t b tb" style="left:453px;top:1173.71px;font-size:27.3px;">609A</div>
<div class="c  tb" style="left:637.5px;width:167.0px;top:1174.22px;font-size:26.7px;">8.33</div>
<div class="c  tb" style="left:804.5px;width:167.0px;top:1174.22px;font-size:26.7px;">10.67</div>
<div class="c  tb" style="left:971.5px;width:147.0px;top:1174.22px;font-size:26.7px;">1.0</div>
<div class="c  tb" style="left:1118.5px;width:205.0px;top:1174.22px;font-size:26.7px;">7.5</div>
<div class="c  tb" style="left:1323.5px;width:183.0px;top:1174.22px;font-size:26.7px;">100</div>
<div class="c  tb" style="left:1506.5px;width:198.0px;top:1174.22px;font-size:26.7px;">42.0</div>
<div class="c  tb" style="left:1704.5px;width:224.0px;top:1174.22px;font-size:26.7px;">14.3</div>
<div class="t b tb" style="left:220px;top:1217.05px;font-size:27.3px;">SMBJ7.5A</div>
<div class="t b tb" style="left:453px;top:1217.05px;font-size:27.3px;">659A</div>
<div class="c  tb" style="left:637.5px;width:167.0px;top:1217.56px;font-size:26.7px;">8.33</div>
<div class="c  tb" style="left:804.5px;width:167.0px;top:1217.56px;font-size:26.7px;">9.58</div>
<div class="c  tb" style="left:971.5px;width:147.0px;top:1217.56px;font-size:26.7px;">1.0</div>
<div class="c  tb" style="left:1118.5px;width:205.0px;top:1217.56px;font-size:26.7px;">7.5</div>
<div class="c  tb" style="left:1323.5px;width:183.0px;top:1217.56px;font-size:26.7px;">100</div>
<div class="c  tb" style="left:1506.5px;width:198.0px;top:1217.56px;font-size:26.7px;">46.5</div>
<div class="c  tb" style="left:1704.5px;width:224.0px;top:1217.56px;font-size:26.7px;">12.9</div>
<div class="t b tb" style="left:220px;top:1260.39px;font-size:27.3px;">SMBJ8.0</div>
<div class="t b tb" style="left:453px;top:1260.39px;font-size:27.3px;">609G</div>
<div class="c  tb" style="left:637.5px;width:167.0px;top:1260.90px;font-size:26.7px;">8.89</div>
<div class="c  tb" style="left:804.5px;width:167.0px;top:1260.90px;font-size:26.7px;">11.3</div>
<div class="c  tb" style="left:971.5px;width:147.0px;top:1260.90px;font-size:26.7px;">1.0</div>
<div class="c  tb" style="left:1118.5px;width:205.0px;top:1260.90px;font-size:26.7px;">8.0</div>
<div class="c  tb" style="left:1323.5px;width:183.0px;top:1260.90px;font-size:26.7px;">50</div>
<div class="c  tb" style="left:1506.5px;width:198.0px;top:1260.90px;font-size:26.7px;">40.0</div>
<div class="c  tb" style="left:1704.5px;width:224.0px;top:1260.90px;font-size:26.7px;">15.0</div>
<div class="t b tb" style="left:220px;top:1303.73px;font-size:27.3px;">SMBJ8.0A</div>
<div class="t b tb" style="left:453px;top:1303.73px;font-size:27.3px;">659G</div>
<div class="c  tb" style="left:637.5px;width:167.0px;top:1304.24px;font-size:26.7px;">8.89</div>
<div class="c  tb" style="left:804.5px;width:167.0px;top:1304.24px;font-size:26.7px;">10.23</div>
<div class="c  tb" style="left:971.5px;width:147.0px;top:1304.24px;font-size:26.7px;">1.0</div>
<div class="c  tb" style="left:1118.5px;width:205.0px;top:1304.24px;font-size:26.7px;">8.0</div>
<div class="c  tb" style="left:1323.5px;width:183.0px;top:1304.24px;font-size:26.7px;">50</div>
<div class="c  tb" style="left:1506.5px;width:198.0px;top:1304.24px;font-size:26.7px;">44.1</div>
<div class="c  tb" style="left:1704.5px;width:224.0px;top:1304.24px;font-size:26.7px;">13.6</div>
<div class="t b tb" style="left:220px;top:1347.07px;font-size:27.3px;">SMBJ8.5</div>
<div class="t b tb" style="left:453px;top:1347.07px;font-size:27.3px;">6010</div>
<div class="c  tb" style="left:637.5px;width:167.0px;top:1347.58px;font-size:26.7px;">9.44</div>
<div class="c  tb" style="left:804.5px;width:167.0px;top:1347.58px;font-size:26.7px;">11.92</div>
<div class="c  tb" style="left:971.5px;width:147.0px;top:1347.58px;font-size:26.7px;">1.0</div>
<div class="c  tb" style="left:1118.5px;width:205.0px;top:1347.58px;font-size:26.7px;">8.5</div>
<div class="c  tb" style="left:1323.5px;width:183.0px;top:1347.58px;font-size:26.7px;">20</div>
<div class="c  tb" style="left:1506.5px;width:198.0px;top:1347.58px;font-size:26.7px;">37.7</div>
<div class="c  tb" style="left:1704.5px;width:224.0px;top:1347.58px;font-size:26.7px;">15.9</div>
<div class="t b tb" style="left:220px;top:1390.41px;font-size:27.3px;">SMBJ8.5A</div>
<div class="t b tb" style="left:453px;top:1390.41px;font-size:27.3px;">6510</div>
<div class="c  tb" style="left:637.5px;width:167.0px;top:1390.92px;font-size:26.7px;">9.44</div>
<div class="c  tb" style="left:804.5px;width:167.0px;top:1390.92px;font-size:26.7px;">10.82</div>
<div class="c  tb" style="left:971.5px;width:147.0px;top:1390.92px;font-size:26.7px;">1.0</div>
<div class="c  tb" style="left:1118.5px;width:205.0px;top:1390.92px;font-size:26.7px;">8.5</div>
<div class="c  tb" style="left:1323.5px;width:183.0px;top:1390.92px;font-size:26.7px;">20</div>
<div class="c  tb" style="left:1506.5px;width:198.0px;top:1390.92px;font-size:26.7px;">41.7</div>
<div class="c  tb" style="left:1704.5px;width:224.0px;top:1390.92px;font-size:26.7px;">14.4</div>
<div class="t b tb" style="left:220px;top:1433.75px;font-size:27.3px;">SMBJ9.0</div>
<div class="t b tb" style="left:453px;top:1433.75px;font-size:27.3px;">6011</div>
<div class="c  tb" style="left:637.5px;width:167.0px;top:1434.26px;font-size:26.7px;">10.0</div>
<div class="c  tb" style="left:804.5px;width:167.0px;top:1434.26px;font-size:26.7px;">12.6</div>
<div class="c  tb" style="left:971.5px;width:147.0px;top:1434.26px;font-size:26.7px;">1.0</div>
<div class="c  tb" style="left:1118.5px;width:205.0px;top:1434.26px;font-size:26.7px;">9.0</div>
<div class="c  tb" style="left:1323.5px;width:183.0px;top:1434.26px;font-size:26.7px;">10</div>
<div class="c  tb" style="left:1506.5px;width:198.0px;top:1434.26px;font-size:26.7px;">35.5</div>
<div class="c  tb" style="left:1704.5px;width:224.0px;top:1434.26px;font-size:26.7px;">16.9</div>
<div class="t b tb" style="left:220px;top:1477.09px;font-size:27.3px;">SMBJ9.0A</div>
<div class="t b tb" style="left:453px;top:1477.09px;font-size:27.3px;">6511</div>
<div class="c  tb" style="left:637.5px;width:167.0px;top:1477.60px;font-size:26.7px;">10.0</div>
<div class="c  tb" style="left:804.5px;width:167.0px;top:1477.60px;font-size:26.7px;">11.5</div>
<div class="c  tb" style="left:971.5px;width:147.0px;top:1477.60px;font-size:26.7px;">1.0</div>
<div class="c  tb" style="left:1118.5px;width:205.0px;top:1477.60px;font-size:26.7px;">9.0</div>
<div class="c  tb" style="left:1323.5px;width:183.0px;top:1477.60px;font-size:26.7px;">10</div>
<div class="c  tb" style="left:1506.5px;width:198.0px;top:1477.60px;font-size:26.7px;">39.0</div>
<div class="c  tb" style="left:1704.5px;width:224.0px;top:1477.60px;font-size:26.7px;">15.4</div>
<div class="t b tb" style="left:220px;top:1520.43px;font-size:27.3px;">SMBJ10</div>
<div class="t b tb" style="left:453px;top:1520.43px;font-size:27.3px;">6012</div>
<div class="c  tb" style="left:637.5px;width:167.0px;top:1520.94px;font-size:26.7px;">11.1</div>
<div class="c  tb" style="left:804.5px;width:167.0px;top:1520.94px;font-size:26.7px;">14.1</div>
<div class="c  tb" style="left:971.5px;width:147.0px;top:1520.94px;font-size:26.7px;">1.0</div>
<div class="c  tb" style="left:1118.5px;width:205.0px;top:1520.94px;font-size:26.7px;">10</div>
<div class="c  tb" style="left:1323.5px;width:183.0px;top:1520.94px;font-size:26.7px;">5.0</div>
<div class="c  tb" style="left:1506.5px;width:198.0px;top:1520.94px;font-size:26.7px;">31.9</div>
<div class="c  tb" style="left:1704.5px;width:224.0px;top:1520.94px;font-size:26.7px;">18.8</div>
<div class="t b tb" style="left:220px;top:1563.77px;font-size:27.3px;">SMBJ10A</div>
<div class="t b tb" style="left:453px;top:1563.77px;font-size:27.3px;">6512</div>
<div class="c  tb" style="left:637.5px;width:167.0px;top:1564.28px;font-size:26.7px;">11.1</div>
<div class="c  tb" style="left:804.5px;width:167.0px;top:1564.28px;font-size:26.7px;">12.8</div>
<div class="c  tb" style="left:971.5px;width:147.0px;top:1564.28px;font-size:26.7px;">1.0</div>
<div class="c  tb" style="left:1118.5px;width:205.0px;top:1564.28px;font-size:26.7px;">10</div>
<div class="c  tb" style="left:1323.5px;width:183.0px;top:1564.28px;font-size:26.7px;">5.0</div>
<div class="c  tb" style="left:1506.5px;width:198.0px;top:1564.28px;font-size:26.7px;">35.3</div>
<div class="c  tb" style="left:1704.5px;width:224.0px;top:1564.28px;font-size:26.7px;">17.0</div>
<div class="t b tb" style="left:220px;top:1607.11px;font-size:27.3px;">SMBJ11</div>
<div class="t b tb" style="left:453px;top:1607.11px;font-size:27.3px;">6013</div>
<div class="c  tb" style="left:637.5px;width:167.0px;top:1607.62px;font-size:26.7px;">12.2</div>
<div class="c  tb" style="left:804.5px;width:167.0px;top:1607.62px;font-size:26.7px;">15.4</div>
<div class="c  tb" style="left:971.5px;width:147.0px;top:1607.62px;font-size:26.7px;">1.0</div>
<div class="c  tb" style="left:1118.5px;width:205.0px;top:1607.62px;font-size:26.7px;">11</div>
<div class="c  tb" style="left:1323.5px;width:183.0px;top:1607.62px;font-size:26.7px;">5.0</div>
<div class="c  tb" style="left:1506.5px;width:198.0px;top:1607.62px;font-size:26.7px;">29.9</div>
<div class="c  tb" style="left:1704.5px;width:224.0px;top:1607.62px;font-size:26.7px;">20.1</div>
<div class="t b tb" style="left:220px;top:1650.45px;font-size:27.3px;">SMBJ11A</div>
<div class="t b tb" style="left:453px;top:1650.45px;font-size:27.3px;">6513</div>
<div class="c  tb" style="left:637.5px;width:167.0px;top:1650.96px;font-size:26.7px;">12.2</div>
<div class="c  tb" style="left:804.5px;width:167.0px;top:1650.96px;font-size:26.7px;">14.0</div>
<div class="c  tb" style="left:971.5px;width:147.0px;top:1650.96px;font-size:26.7px;">1.0</div>
<div class="c  tb" style="left:1118.5px;width:205.0px;top:1650.96px;font-size:26.7px;">11</div>
<div class="c  tb" style="left:1323.5px;width:183.0px;top:1650.96px;font-size:26.7px;">5.0</div>
<div class="c  tb" style="left:1506.5px;width:198.0px;top:1650.96px;font-size:26.7px;">33.0</div>
<div class="c  tb" style="left:1704.5px;width:224.0px;top:1650.96px;font-size:26.7px;">18.2</div>
<div class="t b tb" style="left:220px;top:1693.79px;font-size:27.3px;">SMBJ12</div>
<div class="t b tb" style="left:453px;top:1693.79px;font-size:27.3px;">6014</div>
<div class="c  tb" style="left:637.5px;width:167.0px;top:1694.30px;font-size:26.7px;">13.3</div>
<div class="c  tb" style="left:804.5px;width:167.0px;top:1694.30px;font-size:26.7px;">16.9</div>
<div class="c  tb" style="left:971.5px;width:147.0px;top:1694.30px;font-size:26.7px;">1.0</div>
<div class="c  tb" style="left:1118.5px;width:205.0px;top:1694.30px;font-size:26.7px;">12</div>
<div class="c  tb" style="left:1323.5px;width:183.0px;top:1694.30px;font-size:26.7px;">5.0</div>
<div class="c  tb" style="left:1506.5px;width:198.0px;top:1694.30px;font-size:26.7px;">27.3</div>
<div class="c  tb" style="left:1704.5px;width:224.0px;top:1694.30px;font-size:26.7px;">22.0</div>
<div class="t b tb" style="left:220px;top:1737.13px;font-size:27.3px;">SMBJ12A</div>
<div class="t b tb" style="left:453px;top:1737.13px;font-size:27.3px;">6514</div>
<div class="c  tb" style="left:637.5px;width:167.0px;top:1737.64px;font-size:26.7px;">13.3</div>
<div class="c  tb" style="left:804.5px;width:167.0px;top:1737.64px;font-size:26.7px;">15.3</div>
<div class="c  tb" style="left:971.5px;width:147.0px;top:1737.64px;font-size:26.7px;">1.0</div>
<div class="c  tb" style="left:1118.5px;width:205.0px;top:1737.64px;font-size:26.7px;">12</div>
<div class="c  tb" style="left:1323.5px;width:183.0px;top:1737.64px;font-size:26.7px;">5.0</div>
<div class="c  tb" style="left:1506.5px;width:198.0px;top:1737.64px;font-size:26.7px;">30.2</div>
<div class="c  tb" style="left:1704.5px;width:224.0px;top:1737.64px;font-size:26.7px;">19.9</div>
<div class="t b tb" style="left:220px;top:1780.47px;font-size:27.3px;">SMBJ13</div>
<div class="t b tb" style="left:453px;top:1780.47px;font-size:27.3px;">6015</div>
<div class="c  tb" style="left:637.5px;width:167.0px;top:1780.98px;font-size:26.7px;">14.4</div>
<div class="c  tb" style="left:804.5px;width:167.0px;top:1780.98px;font-size:26.7px;">18.2</div>
<div class="c  tb" style="left:971.5px;width:147.0px;top:1780.98px;font-size:26.7px;">1.0</div>
<div class="c  tb" style="left:1118.5px;width:205.0px;top:1780.98px;font-size:26.7px;">13</div>
<div class="c  tb" style="left:1323.5px;width:183.0px;top:1780.98px;font-size:26.7px;">5.0</div>
<div class="c  tb" style="left:1506.5px;width:198.0px;top:1780.98px;font-size:26.7px;">25.2</div>
<div class="c  tb" style="left:1704.5px;width:224.0px;top:1780.98px;font-size:26.7px;">23.8</div>
<div class="t b tb" style="left:220px;top:1823.81px;font-size:27.3px;">SMBJ13A</div>
<div class="t b tb" style="left:453px;top:1823.81px;font-size:27.3px;">6515</div>
<div class="c  tb" style="left:637.5px;width:167.0px;top:1824.32px;font-size:26.7px;">14.4</div>
<div class="c  tb" style="left:804.5px;width:167.0px;top:1824.32px;font-size:26.7px;">16.5</div>
<div class="c  tb" style="left:971.5px;width:147.0px;top:1824.32px;font-size:26.7px;">1.0</div>
<div class="c  tb" style="left:1118.5px;width:205.0px;top:1824.32px;font-size:26.7px;">13</div>
<div class="c  tb" style="left:1323.5px;width:183.0px;top:1824.32px;font-size:26.7px;">5.0</div>
<div class="c  tb" style="left:1506.5px;width:198.0px;top:1824.32px;font-size:26.7px;">27.9</div>
<div class="c  tb" style="left:1704.5px;width:224.0px;top:1824.32px;font-size:26.7px;">21.5</div>
<div class="t b tb" style="left:220px;top:1867.15px;font-size:27.3px;">SMBJ14</div>
<div class="t b tb" style="left:453px;top:1867.15px;font-size:27.3px;">6017</div>
<div class="c  tb" style="left:637.5px;width:167.0px;top:1867.66px;font-size:26.7px;">15.6</div>
<div class="c  tb" style="left:804.5px;width:167.0px;top:1867.66px;font-size:26.7px;">19.8</div>
<div class="c  tb" style="left:971.5px;width:147.0px;top:1867.66px;font-size:26.7px;">1.0</div>
<div class="c  tb" style="left:1118.5px;width:205.0px;top:1867.66px;font-size:26.7px;">14</div>
<div class="c  tb" style="left:1323.5px;width:183.0px;top:1867.66px;font-size:26.7px;">5.0</div>
<div class="c  tb" style="left:1506.5px;width:198.0px;top:1867.66px;font-size:26.7px;">23.3</div>
<div class="c  tb" style="left:1704.5px;width:224.0px;top:1867.66px;font-size:26.7px;">25.8</div>
<div class="t b tb" style="left:220px;top:1910.49px;font-size:27.3px;">SMBJ14A</div>
<div class="t b tb" style="left:453px;top:1910.49px;font-size:27.3px;">6517</div>
<div class="c  tb" style="left:637.5px;width:167.0px;top:1911.00px;font-size:26.7px;">15.6</div>
<div class="c  tb" style="left:804.5px;width:167.0px;top:1911.00px;font-size:26.7px;">17.9</div>
<div class="c  tb" style="left:971.5px;width:147.0px;top:1911.00px;font-size:26.7px;">1.0</div>
<div class="c  tb" style="left:1118.5px;width:205.0px;top:1911.00px;font-size:26.7px;">14</div>
<div class="c  tb" style="left:1323.5px;width:183.0px;top:1911.00px;font-size:26.7px;">5.0</div>
<div class="c  tb" style="left:1506.5px;width:198.0px;top:1911.00px;font-size:26.7px;">25.8</div>
<div class="c  tb" style="left:1704.5px;width:224.0px;top:1911.00px;font-size:26.7px;">23.2</div>
<div class="t b tb" style="left:220px;top:1953.83px;font-size:27.3px;">SMBJ15</div>
<div class="t b tb" style="left:453px;top:1953.83px;font-size:27.3px;">6018</div>
<div class="c  tb" style="left:637.5px;width:167.0px;top:1954.34px;font-size:26.7px;">16.7</div>
<div class="c  tb" style="left:804.5px;width:167.0px;top:1954.34px;font-size:26.7px;">21.1</div>
<div class="c  tb" style="left:971.5px;width:147.0px;top:1954.34px;font-size:26.7px;">1.0</div>
<div class="c  tb" style="left:1118.5px;width:205.0px;top:1954.34px;font-size:26.7px;">15</div>
<div class="c  tb" style="left:1323.5px;width:183.0px;top:1954.34px;font-size:26.7px;">5.0</div>
<div class="c  tb" style="left:1506.5px;width:198.0px;top:1954.34px;font-size:26.7px;">22.3</div>
<div class="c  tb" style="left:1704.5px;width:224.0px;top:1954.34px;font-size:26.7px;">26.9</div>
<div class="t b tb" style="left:220px;top:1997.17px;font-size:27.3px;">SMBJ15A</div>
<div class="t b tb" style="left:453px;top:1997.17px;font-size:27.3px;">6518</div>
<div class="c  tb" style="left:637.5px;width:167.0px;top:1997.68px;font-size:26.7px;">16.7</div>
<div class="c  tb" style="left:804.5px;width:167.0px;top:1997.68px;font-size:26.7px;">19.2</div>
<div class="c  tb" style="left:971.5px;width:147.0px;top:1997.68px;font-size:26.7px;">1.0</div>
<div class="c  tb" style="left:1118.5px;width:205.0px;top:1997.68px;font-size:26.7px;">15</div>
<div class="c  tb" style="left:1323.5px;width:183.0px;top:1997.68px;font-size:26.7px;">5.0</div>
<div class="c  tb" style="left:1506.5px;width:198.0px;top:1997.68px;font-size:26.7px;">24.0</div>
<div class="c  tb" style="left:1704.5px;width:224.0px;top:1997.68px;font-size:26.7px;">24.4</div>
<div class="t b tb" style="left:220px;top:2040.51px;font-size:27.3px;">SMBJ16</div>
<div class="t b tb" style="left:453px;top:2040.51px;font-size:27.3px;">6019</div>
<div class="c  tb" style="left:637.5px;width:167.0px;top:2041.02px;font-size:26.7px;">17.8</div>
<div class="c  tb" style="left:804.5px;width:167.0px;top:2041.02px;font-size:26.7px;">22.6</div>
<div class="c  tb" style="left:971.5px;width:147.0px;top:2041.02px;font-size:26.7px;">1.0</div>
<div class="c  tb" style="left:1118.5px;width:205.0px;top:2041.02px;font-size:26.7px;">16</div>
<div class="c  tb" style="left:1323.5px;width:183.0px;top:2041.02px;font-size:26.7px;">5.0</div>
<div class="c  tb" style="left:1506.5px;width:198.0px;top:2041.02px;font-size:26.7px;">20.8</div>
<div class="c  tb" style="left:1704.5px;width:224.0px;top:2041.02px;font-size:26.7px;">28.8</div>
<div class="t b tb" style="left:220px;top:2083.85px;font-size:27.3px;">SMBJ16A</div>
<div class="t b tb" style="left:453px;top:2083.85px;font-size:27.3px;">6519</div>
<div class="c  tb" style="left:637.5px;width:167.0px;top:2084.36px;font-size:26.7px;">17.8</div>
<div class="c  tb" style="left:804.5px;width:167.0px;top:2084.36px;font-size:26.7px;">20.5</div>
<div class="c  tb" style="left:971.5px;width:147.0px;top:2084.36px;font-size:26.7px;">1.0</div>
<div class="c  tb" style="left:1118.5px;width:205.0px;top:2084.36px;font-size:26.7px;">16</div>
<div class="c  tb" style="left:1323.5px;width:183.0px;top:2084.36px;font-size:26.7px;">5.0</div>
<div class="c  tb" style="left:1506.5px;width:198.0px;top:2084.36px;font-size:26.7px;">23.1</div>
<div class="c  tb" style="left:1704.5px;width:224.0px;top:2084.36px;font-size:26.7px;">26.0</div>
<div class="t b tb" style="left:220px;top:2127.19px;font-size:27.3px;">SMBJ17</div>
<div class="t b tb" style="left:453px;top:2127.19px;font-size:27.3px;">6020</div>
<div class="c  tb" style="left:637.5px;width:167.0px;top:2127.70px;font-size:26.7px;">18.9</div>
<div class="c  tb" style="left:804.5px;width:167.0px;top:2127.70px;font-size:26.7px;">23.9</div>
<div class="c  tb" style="left:971.5px;width:147.0px;top:2127.70px;font-size:26.7px;">1.0</div>
<div class="c  tb" style="left:1118.5px;width:205.0px;top:2127.70px;font-size:26.7px;">17</div>
<div class="c  tb" style="left:1323.5px;width:183.0px;top:2127.70px;font-size:26.7px;">5.0</div>
<div class="c  tb" style="left:1506.5px;width:198.0px;top:2127.70px;font-size:26.7px;">19.7</div>
<div class="c  tb" style="left:1704.5px;width:224.0px;top:2127.70px;font-size:26.7px;">30.5</div>
<div class="t b tb" style="left:220px;top:2170.53px;font-size:27.3px;">SMBJ17A</div>
<div class="t b tb" style="left:453px;top:2170.53px;font-size:27.3px;">6520</div>
<div class="c  tb" style="left:637.5px;width:167.0px;top:2171.04px;font-size:26.7px;">18.9</div>
<div class="c  tb" style="left:804.5px;width:167.0px;top:2171.04px;font-size:26.7px;">21.7</div>
<div class="c  tb" style="left:971.5px;width:147.0px;top:2171.04px;font-size:26.7px;">1.0</div>
<div class="c  tb" style="left:1118.5px;width:205.0px;top:2171.04px;font-size:26.7px;">17</div>
<div class="c  tb" style="left:1323.5px;width:183.0px;top:2171.04px;font-size:26.7px;">5.0</div>
<div class="c  tb" style="left:1506.5px;width:198.0px;top:2171.04px;font-size:26.7px;">21.7</div>
<div class="c  tb" style="left:1704.5px;width:224.0px;top:2171.04px;font-size:26.7px;">27.6</div>
<div class="t b tb" style="left:220px;top:2213.87px;font-size:27.3px;">SMBJ18</div>
<div class="t b tb" style="left:453px;top:2213.87px;font-size:27.3px;">6022</div>
<div class="c  tb" style="left:637.5px;width:167.0px;top:2214.38px;font-size:26.7px;">20.0</div>
<div class="c  tb" style="left:804.5px;width:167.0px;top:2214.38px;font-size:26.7px;">25.3</div>
<div class="c  tb" style="left:971.5px;width:147.0px;top:2214.38px;font-size:26.7px;">1.0</div>
<div class="c  tb" style="left:1118.5px;width:205.0px;top:2214.38px;font-size:26.7px;">18</div>
<div class="c  tb" style="left:1323.5px;width:183.0px;top:2214.38px;font-size:26.7px;">5.0</div>
<div class="c  tb" style="left:1506.5px;width:198.0px;top:2214.38px;font-size:26.7px;">18.6</div>
<div class="c  tb" style="left:1704.5px;width:224.0px;top:2214.38px;font-size:26.7px;">32.2</div>
<div class="t b tb" style="left:220px;top:2257.21px;font-size:27.3px;">SMBJ18A</div>
<div class="t b tb" style="left:453px;top:2257.21px;font-size:27.3px;">6522</div>
<div class="c  tb" style="left:637.5px;width:167.0px;top:2257.72px;font-size:26.7px;">20.0</div>
<div class="c  tb" style="left:804.5px;width:167.0px;top:2257.72px;font-size:26.7px;">23.3</div>
<div class="c  tb" style="left:971.5px;width:147.0px;top:2257.72px;font-size:26.7px;">1.0</div>
<div class="c  tb" style="left:1118.5px;width:205.0px;top:2257.72px;font-size:26.7px;">18</div>
<div class="c  tb" style="left:1323.5px;width:183.0px;top:2257.72px;font-size:26.7px;">5.0</div>
<div class="c  tb" style="left:1506.5px;width:198.0px;top:2257.72px;font-size:26.7px;">20.5</div>
<div class="c  tb" style="left:1704.5px;width:224.0px;top:2257.72px;font-size:26.7px;">29.2</div>
<div class="t b tb" style="left:220px;top:2300.55px;font-size:27.3px;">SMBJ20</div>
<div class="t b tb" style="left:453px;top:2300.55px;font-size:27.3px;">6024</div>
<div class="c  tb" style="left:637.5px;width:167.0px;top:2301.06px;font-size:26.7px;">22.2</div>
<div class="c  tb" style="left:804.5px;width:167.0px;top:2301.06px;font-size:26.7px;">28.1</div>
<div class="c  tb" style="left:971.5px;width:147.0px;top:2301.06px;font-size:26.7px;">1.0</div>
<div class="c  tb" style="left:1118.5px;width:205.0px;top:2301.06px;font-size:26.7px;">20</div>
<div class="c  tb" style="left:1323.5px;width:183.0px;top:2301.06px;font-size:26.7px;">5.0</div>
<div class="c  tb" style="left:1506.5px;width:198.0px;top:2301.06px;font-size:26.7px;">16.7</div>
<div class="c  tb" style="left:1704.5px;width:224.0px;top:2301.06px;font-size:26.7px;">35.8</div>
<div class="t b tb" style="left:220px;top:2343.89px;font-size:27.3px;">SMBJ20A</div>
<div class="t b tb" style="left:453px;top:2343.89px;font-size:27.3px;">6524</div>
<div class="c  tb" style="left:637.5px;width:167.0px;top:2344.40px;font-size:26.7px;">22.2</div>
<div class="c  tb" style="left:804.5px;width:167.0px;top:2344.40px;font-size:26.7px;">25.5</div>
<div class="c  tb" style="left:971.5px;width:147.0px;top:2344.40px;font-size:26.7px;">1.0</div>
<div class="c  tb" style="left:1118.5px;width:205.0px;top:2344.40px;font-size:26.7px;">20</div>
<div class="c  tb" style="left:1323.5px;width:183.0px;top:2344.40px;font-size:26.7px;">5.0</div>
<div class="c  tb" style="left:1506.5px;width:198.0px;top:2344.40px;font-size:26.7px;">18.5</div>
<div class="c  tb" style="left:1704.5px;width:224.0px;top:2344.40px;font-size:26.7px;">32.4</div>
<div class="t b tb" style="left:220px;top:2387.23px;font-size:27.3px;">SMBJ22</div>
<div class="t b tb" style="left:453px;top:2387.23px;font-size:27.3px;">6026</div>
<div class="c  tb" style="left:637.5px;width:167.0px;top:2387.74px;font-size:26.7px;">24.4</div>
<div class="c  tb" style="left:804.5px;width:167.0px;top:2387.74px;font-size:26.7px;">30.9</div>
<div class="c  tb" style="left:971.5px;width:147.0px;top:2387.74px;font-size:26.7px;">1.0</div>
<div class="c  tb" style="left:1118.5px;width:205.0px;top:2387.74px;font-size:26.7px;">22</div>
<div class="c  tb" style="left:1323.5px;width:183.0px;top:2387.74px;font-size:26.7px;">5.0</div>
<div class="c  tb" style="left:1506.5px;width:198.0px;top:2387.74px;font-size:26.7px;">15.2</div>
<div class="c  tb" style="left:1704.5px;width:224.0px;top:2387.74px;font-size:26.7px;">39.4</div>
<div class="t b tb" style="left:220px;top:2430.57px;font-size:27.3px;">SMBJ22A</div>
<div class="t b tb" style="left:453px;top:2430.57px;font-size:27.3px;">6526</div>
<div class="c  tb" style="left:637.5px;width:167.0px;top:2431.08px;font-size:26.7px;">24.4</div>
<div class="c  tb" style="left:804.5px;width:167.0px;top:2431.08px;font-size:26.7px;">28.0</div>
<div class="c  tb" style="left:971.5px;width:147.0px;top:2431.08px;font-size:26.7px;">1.0</div>
<div class="c  tb" style="left:1118.5px;width:205.0px;top:2431.08px;font-size:26.7px;">22</div>
<div class="c  tb" style="left:1323.5px;width:183.0px;top:2431.08px;font-size:26.7px;">5.0</div>
<div class="c  tb" style="left:1506.5px;width:198.0px;top:2431.08px;font-size:26.7px;">16.9</div>
<div class="c  tb" style="left:1704.5px;width:224.0px;top:2431.08px;font-size:26.7px;">35.5</div>
<div class="t b tb" style="left:220px;top:2473.91px;font-size:27.3px;">SMBJ24</div>
<div class="t b tb" style="left:453px;top:2473.91px;font-size:27.3px;">6029</div>
<div class="c  tb" style="left:637.5px;width:167.0px;top:2474.42px;font-size:26.7px;">26.7</div>
<div class="c  tb" style="left:804.5px;width:167.0px;top:2474.42px;font-size:26.7px;">33.8</div>
<div class="c  tb" style="left:971.5px;width:147.0px;top:2474.42px;font-size:26.7px;">1.0</div>
<div class="c  tb" style="left:1118.5px;width:205.0px;top:2474.42px;font-size:26.7px;">24</div>
<div class="c  tb" style="left:1323.5px;width:183.0px;top:2474.42px;font-size:26.7px;">5.0</div>
<div class="c  tb" style="left:1506.5px;width:198.0px;top:2474.42px;font-size:26.7px;">14.0</div>
<div class="c  tb" style="left:1704.5px;width:224.0px;top:2474.42px;font-size:26.7px;">43.0</div>
<div class="t b tb" style="left:220px;top:2517.25px;font-size:27.3px;">SMBJ24A</div>
<div class="t b tb" style="left:453px;top:2517.25px;font-size:27.3px;">6529</div>
<div class="c  tb" style="left:637.5px;width:167.0px;top:2517.76px;font-size:26.7px;">26.7</div>
<div class="c  tb" style="left:804.5px;width:167.0px;top:2517.76px;font-size:26.7px;">30.7</div>
<div class="c  tb" style="left:971.5px;width:147.0px;top:2517.76px;font-size:26.7px;">1.0</div>
<div class="c  tb" style="left:1118.5px;width:205.0px;top:2517.76px;font-size:26.7px;">24</div>
<div class="c  tb" style="left:1323.5px;width:183.0px;top:2517.76px;font-size:26.7px;">5.0</div>
<div class="c  tb" style="left:1506.5px;width:198.0px;top:2517.76px;font-size:26.7px;">15.4</div>
<div class="c  tb" style="left:1704.5px;width:224.0px;top:2517.76px;font-size:26.7px;">38.9</div>
<div class="t b tb" style="left:220px;top:2560.59px;font-size:27.3px;">SMBJ26</div>
<div class="t b tb" style="left:453px;top:2560.59px;font-size:27.3px;">6031</div>
<div class="c  tb" style="left:637.5px;width:167.0px;top:2561.10px;font-size:26.7px;">28.9</div>
<div class="c  tb" style="left:804.5px;width:167.0px;top:2561.10px;font-size:26.7px;">36.6</div>
<div class="c  tb" style="left:971.5px;width:147.0px;top:2561.10px;font-size:26.7px;">1.0</div>
<div class="c  tb" style="left:1118.5px;width:205.0px;top:2561.10px;font-size:26.7px;">26</div>
<div class="c  tb" style="left:1323.5px;width:183.0px;top:2561.10px;font-size:26.7px;">5.0</div>
<div class="c  tb" style="left:1506.5px;width:198.0px;top:2561.10px;font-size:26.7px;">12.4</div>
<div class="c  tb" style="left:1704.5px;width:224.0px;top:2561.10px;font-size:26.7px;">46.6</div>
<div class="t b tb" style="left:220px;top:2603.93px;font-size:27.3px;">SMBJ26A</div>
<div class="t b tb" style="left:453px;top:2603.93px;font-size:27.3px;">6531</div>
<div class="c  tb" style="left:637.5px;width:167.0px;top:2604.44px;font-size:26.7px;">28.9</div>
<div class="c  tb" style="left:804.5px;width:167.0px;top:2604.44px;font-size:26.7px;">33.2</div>
<div class="c  tb" style="left:971.5px;width:147.0px;top:2604.44px;font-size:26.7px;">1.0</div>
<div class="c  tb" style="left:1118.5px;width:205.0px;top:2604.44px;font-size:26.7px;">26</div>
<div class="c  tb" style="left:1323.5px;width:183.0px;top:2604.44px;font-size:26.7px;">5.0</div>
<div class="c  tb" style="left:1506.5px;width:198.0px;top:2604.44px;font-size:26.7px;">14.2</div>
<div class="c  tb" style="left:1704.5px;width:224.0px;top:2604.44px;font-size:26.7px;">42.1</div>
<div class="t b tb" style="left:220px;top:2647.27px;font-size:27.3px;">SMBJ28</div>
<div class="t b tb" style="left:453px;top:2647.27px;font-size:27.3px;">6033</div>
<div class="c  tb" style="left:637.5px;width:167.0px;top:2647.78px;font-size:26.7px;">31.1</div>
<div class="c  tb" style="left:804.5px;width:167.0px;top:2647.78px;font-size:26.7px;">39.4</div>
<div class="c  tb" style="left:971.5px;width:147.0px;top:2647.78px;font-size:26.7px;">1.0</div>
<div class="c  tb" style="left:1118.5px;width:205.0px;top:2647.78px;font-size:26.7px;">28</div>
<div class="c  tb" style="left:1323.5px;width:183.0px;top:2647.78px;font-size:26.7px;">5.0</div>
<div class="c  tb" style="left:1506.5px;width:198.0px;top:2647.78px;font-size:26.7px;">12.0</div>
<div class="c  tb" style="left:1704.5px;width:224.0px;top:2647.78px;font-size:26.7px;">50.0</div>
<div class="t b tb" style="left:220px;top:2690.61px;font-size:27.3px;">SMBJ28A</div>
<div class="t b tb" style="left:453px;top:2690.61px;font-size:27.3px;">6533</div>
<div class="c  tb" style="left:637.5px;width:167.0px;top:2691.12px;font-size:26.7px;">31.1</div>
<div class="c  tb" style="left:804.5px;width:167.0px;top:2691.12px;font-size:26.7px;">35.8</div>
<div class="c  tb" style="left:971.5px;width:147.0px;top:2691.12px;font-size:26.7px;">1.0</div>
<div class="c  tb" style="left:1118.5px;width:205.0px;top:2691.12px;font-size:26.7px;">28</div>
<div class="c  tb" style="left:1323.5px;width:183.0px;top:2691.12px;font-size:26.7px;">5.0</div>
<div class="c  tb" style="left:1506.5px;width:198.0px;top:2691.12px;font-size:26.7px;">13.2</div>
<div class="c  tb" style="left:1704.5px;width:224.0px;top:2691.12px;font-size:26.7px;">45.4</div>
<div class="t b tb" style="left:220px;top:2733.95px;font-size:27.3px;">SMBJ30</div>
<div class="t b tb" style="left:453px;top:2733.95px;font-size:27.3px;">6036</div>
<div class="c  tb" style="left:637.5px;width:167.0px;top:2734.46px;font-size:26.7px;">33.3</div>
<div class="c  tb" style="left:804.5px;width:167.0px;top:2734.46px;font-size:26.7px;">42.2</div>
<div class="c  tb" style="left:971.5px;width:147.0px;top:2734.46px;font-size:26.7px;">1.0</div>
<div class="c  tb" style="left:1118.5px;width:205.0px;top:2734.46px;font-size:26.7px;">30</div>
<div class="c  tb" style="left:1323.5px;width:183.0px;top:2734.46px;font-size:26.7px;">5.0</div>
<div class="c  tb" style="left:1506.5px;width:198.0px;top:2734.46px;font-size:26.7px;">11.2</div>
<div class="c  tb" style="left:1704.5px;width:224.0px;top:2734.46px;font-size:26.7px;">53.5</div>
<div class="t b tb" style="left:220px;top:2777.29px;font-size:27.3px;">SMBJ30A</div>
<div class="t b tb" style="left:453px;top:2777.29px;font-size:27.3px;">6536</div>
<div class="c  tb" style="left:637.5px;width:167.0px;top:2777.80px;font-size:26.7px;">33.1</div>
<div class="c  tb" style="left:804.5px;width:167.0px;top:2777.80px;font-size:26.7px;">38.3</div>
<div class="c  tb" style="left:971.5px;width:147.0px;top:2777.80px;font-size:26.7px;">1.0</div>
<div class="c  tb" style="left:1118.5px;width:205.0px;top:2777.80px;font-size:26.7px;">30</div>
<div class="c  tb" style="left:1323.5px;width:183.0px;top:2777.80px;font-size:26.7px;">5.0</div>
<div class="c  tb" style="left:1506.5px;width:198.0px;top:2777.80px;font-size:26.7px;">12.4</div>
<div class="c  tb" style="left:1704.5px;width:224.0px;top:2777.80px;font-size:26.7px;">46.6</div>
</body></html>
